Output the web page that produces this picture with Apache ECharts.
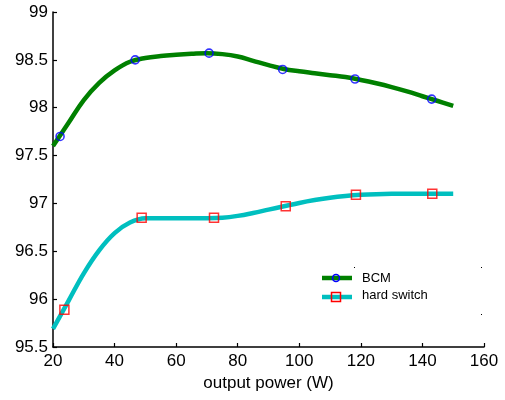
<!DOCTYPE html>
<html>
<head>
<meta charset="utf-8">
<script src="https://cdn.jsdelivr.net/npm/echarts@6/dist/echarts.min.js"></script>
<style>
html,body{margin:0;padding:0;background:#fff;}
#main{width:505px;height:400px;}
</style>
</head>
<body>
<div id="main"></div>
<script>
//曲线采样点 (W)
var xPower = [20,25,30,35,40,45,50,55,60,65,70,75,80,85,90,95,100,105,110,115,120,125,130,135,140,145,150];
var bcmCurve = [97.60,97.84,98.08,98.26,98.39,98.48,98.52,98.54,98.553,98.563,98.57,98.56,98.535,98.49,98.445,98.405,98.38,98.36,98.34,98.32,98.29,98.255,98.215,98.17,98.12,98.07,98.02];
var hardCurve = [95.69,95.98,96.27,96.51,96.69,96.80,96.845,96.845,96.845,96.845,96.845,96.85,96.87,96.90,96.935,96.97,97.005,97.035,97.06,97.078,97.09,97.097,97.10,97.10,97.10,97.10,97.10];
//测量点
var bcmMarkX = [22.3,46.7,70.7,94.6,118.1,143.0];
var bcmMarkY = [97.70,98.50,98.57,98.40,98.30,98.09];
var hardMarkX = [23.7,48.8,72.3,95.6,118.4,143.2];
var hardMarkY = [95.89,96.85,96.85,96.97,97.09,97.10];
var legendNames = ['BCM','hard switch'];
var xTitle = 'output power (W)';

function pairs(xs,ys){
	var out=[];
	for(var i=0;i<xs.length;i++){ out.push([xs[i],ys[i]]); }
	return out;
}

var FONT = 'Liberation Sans, Arial, sans-serif';
var chart = echarts.init(document.getElementById('main'));
var options = {
	backgroundColor: '#ffffff',
	animation: false,
	grid: {left:53, right:21, top:12, bottom:53},
	xAxis: {
		type: 'value',
		min: 20, max: 160, interval: 20,
		name: xTitle,
		nameLocation: 'middle',
		nameGap: 27,
		nameTextStyle: {color:'#000', fontSize:17, fontFamily:FONT},
		axisLine: {lineStyle:{color:'#000', width:1.5}},
		axisTick: {inside:true, length:4, lineStyle:{color:'#000', width:1.2}},
		axisLabel: {color:'#000', fontSize:17, fontFamily:FONT, margin:6},
		splitLine: {show:false}
	},
	yAxis: {
		type: 'value',
		min: 95.5, max: 99, interval: 0.5,
		axisLine: {show:true, lineStyle:{color:'#000', width:1.5}},
		axisTick: {show:true, inside:true, length:4, lineStyle:{color:'#000', width:1.2}},
		axisLabel: {color:'#000', fontSize:17, fontFamily:FONT, margin:5},
		splitLine: {show:false}
	},
	series: [
		{
			name: legendNames[0], type: 'line', smooth: 0.4,
			symbol: 'none', data: pairs(xPower,bcmCurve),
			lineStyle: {color:'#008000', width:4.5}
		},
		{
			name: legendNames[1], type: 'line', smooth: 0.4,
			symbol: 'none', data: pairs(xPower,hardCurve),
			lineStyle: {color:'#00BFBF', width:4.5}
		},
		{
			type: 'scatter', data: pairs(bcmMarkX,bcmMarkY),
			symbol: 'circle', symbolSize: 8, z: 5,
			itemStyle: {color:'rgba(0,0,0,0)', borderColor:'#0000FF', borderWidth:1.6}
		},
		{
			type: 'scatter', data: pairs(hardMarkX,hardMarkY),
			symbol: 'rect', symbolSize: 9, z: 5,
			itemStyle: {color:'rgba(0,0,0,0)', borderColor:'#FF0000', borderWidth:1.5}
		}
	],
	//图例 (手绘)
	graphic: [
		{type:'line', shape:{x1:322,y1:278,x2:352,y2:278}, style:{stroke:'#008000', lineWidth:4.5}},
		{type:'circle', shape:{cx:336,cy:278,r:3.5}, style:{fill:'none', stroke:'#0000FF', lineWidth:1.5}},
		{type:'text', left:362, top:272, style:{text:legendNames[0], fill:'#000', font:'13px '+FONT}},
		{type:'line', shape:{x1:322,y1:297,x2:352,y2:297}, style:{stroke:'#00BFBF', lineWidth:4.5}},
		{type:'rect', shape:{x:331.5,y:292.5,width:9,height:9}, style:{fill:'none', stroke:'#FF0000', lineWidth:1.5}},
		{type:'text', left:362, top:289, style:{text:legendNames[1], fill:'#000', font:'13px '+FONT}},
		{type:'rect', shape:{x:354,y:267,width:1,height:1}, style:{fill:'#000'}},
		{type:'rect', shape:{x:481,y:267,width:1,height:1}, style:{fill:'#000'}},
		{type:'rect', shape:{x:481,y:314,width:1,height:1}, style:{fill:'#000'}}
	]
};
chart.setOption(options);
</script>
</body>
</html>
